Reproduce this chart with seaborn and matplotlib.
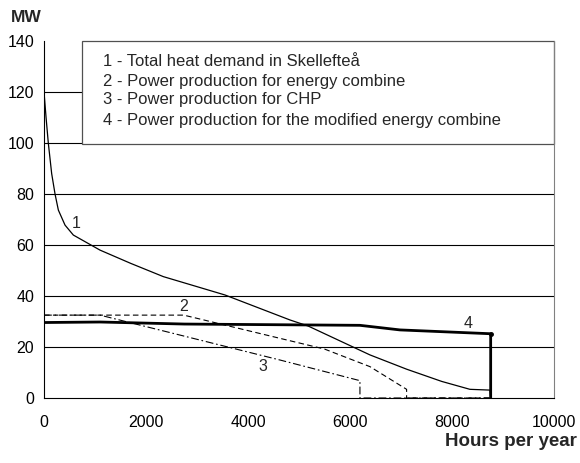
import matplotlib
matplotlib.use("Agg")
import matplotlib.pyplot as plt
import seaborn as sns
import pandas as pd
from matplotlib.patches import Rectangle

# Data
hours_1 = [0, 40, 84, 150, 216, 281, 412, 575, 1098, 1700, 2340, 3549, 4824, 5183, 6392, 7111, 7800, 8353, 8745, 8760]
mw_1 = [120, 110, 100, 88, 80, 73.7, 67.8, 63.9, 58, 52.8, 47.6, 40.4, 30.6, 28.2, 16.9, 11.3, 6.5, 3.4, 3.1, 0]

hours_2 = [0, 2740, 4627, 5500, 6392, 7111, 7111, 8760]
mw_2 = [32.5, 32.5, 23.4, 19.2, 12.3, 3.4, 0, 0]

hours_3 = [0, 1098, 4627, 6196, 6196, 8760]
mw_3 = [32.5, 32.5, 14.9, 6.8, 0, 0]

hours_4 = [0, 1100, 2750, 6196, 6980, 8760, 8760]
mw_4 = [29.6, 29.8, 29.0, 28.5, 26.7, 25.2, 0]

legend_lines = [
    "1 - Total heat demand in Skellefteå",
    "2 - Power production for energy combine",
    "3 - Power production for CHP",
    "4 - Power production for the modified energy combine",
]
legend_y = [131.8, 124.3, 116.9, 109.0]
curve_labels = ["1", "2", "3", "4"]
label_pos_x = [640, 2745, 4300, 8320]
label_pos_y = [68.5, 35.8, 12.3, 29.3]

x_ticks = [0, 2000, 4000, 6000, 8000, 10000]
y_ticks = [0, 20, 40, 60, 80, 100, 120, 140]

sns.set_style("white")
plt.rcParams['font.family'] = ['Liberation Sans', 'DejaVu Sans']

fig = plt.figure(figsize=(5.8, 4.63), dpi=100)
ax = fig.add_axes([0.0759, 0.1404, 0.955 - 0.0759, 0.9114 - 0.1404])

series = [
    (hours_1, mw_1, dict(color="black", linewidth=0.9)),
    (hours_2, mw_2, dict(color="black", linewidth=0.8, dashes=(5, 3))),
    (hours_3, mw_3, dict(color="black", linewidth=0.8, dashes=(7, 2.5, 1.5, 2.5))),
    (hours_4, mw_4, dict(color="black", linewidth=2.0)),
]
for hx, my, kw in series:
    df = pd.DataFrame({"h": hx, "mw": my})
    dashes = kw.pop("dashes", None)
    sns.lineplot(data=df, x="h", y="mw", sort=False, estimator=None, ax=ax, zorder=3, **kw)
    if dashes is not None:
        ax.lines[-1].set_dashes(dashes)

# point marker at the corner of line 4
ax.plot([hours_4[-2]], [mw_4[-2]], marker="o", markersize=2.5, color="black", zorder=4)

for y in y_ticks[1:-1]:
    ax.axhline(y, color="black", linewidth=0.8, zorder=1)

ax.set_xlim(0, 10000)
ax.set_ylim(0, 140)
ax.set_xticks(x_ticks)
ax.set_yticks(y_ticks)
ax.tick_params(axis="both", direction="out", length=4, width=0.8, colors="black", labelsize=11.5)
ax.tick_params(axis="x", pad=8)
ax.tick_params(axis="y", pad=3)
ax.set_xlabel("")
ax.set_ylabel("")

ax.spines["top"].set_visible(False)
ax.spines["right"].set_color("#808080")
ax.spines["left"].set_color("black")
ax.spines["bottom"].set_color("black")
for s in ax.spines.values():
    s.set_linewidth(0.8)

# legend box
box = Rectangle((745, 99.5), 10000 - 745, 40.5, facecolor="white", edgecolor="#505050",
                linewidth=0.9, zorder=2, clip_on=False)
ax.add_patch(box)
for t, ly in zip(legend_lines, legend_y):
    ax.text(1150, ly, t, fontsize=12, va="center", ha="left", zorder=5)

for lab, lx, ly in zip(curve_labels, label_pos_x, label_pos_y):
    ax.text(lx, ly, lab, fontsize=11.5, ha="center", va="center", zorder=5)

fig.text(11 / 580, 1 - 18 / 463, "MW", fontsize=12.5, fontweight="bold", ha="left", va="center")
fig.text(577 / 580, 1 - 442 / 463, "Hours per year", fontsize=13.5, fontweight="bold", ha="right", va="center")

fig.savefig("out.png", dpi=100)
